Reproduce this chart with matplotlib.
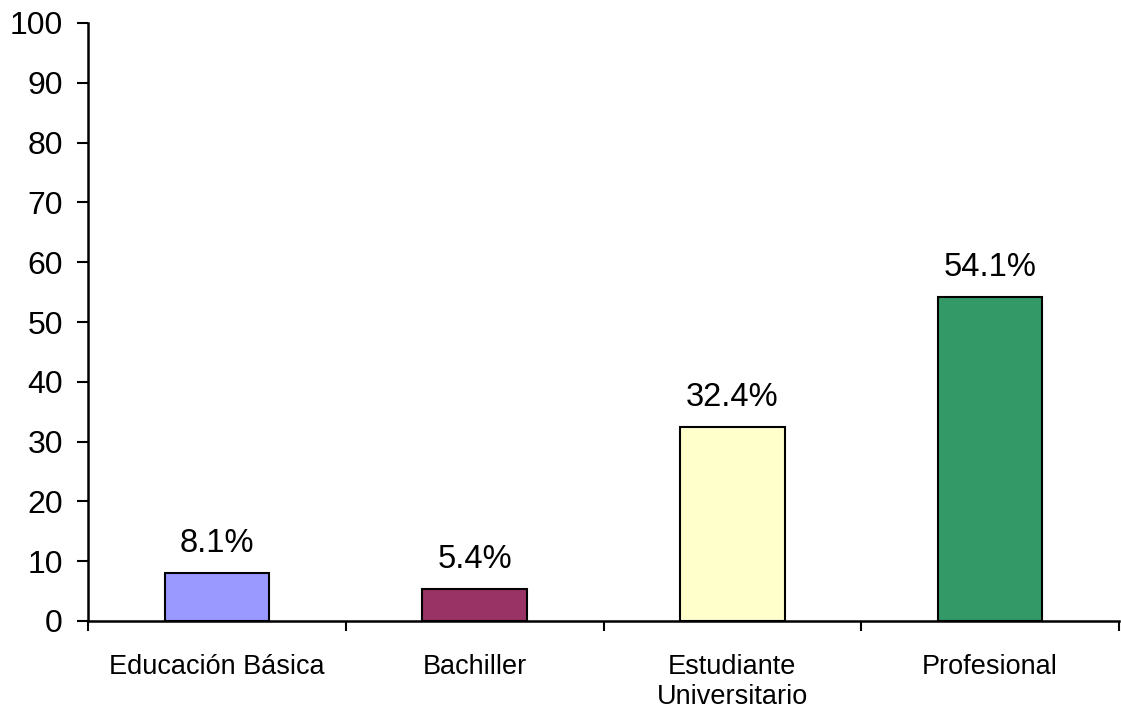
import matplotlib
matplotlib.use("Agg")
import matplotlib.pyplot as plt
import numpy as np

categories = ["Educación Básica", "Bachiller", "Estudiante\nUniversitario", "Profesional"]
values = [8.1, 5.4, 32.4, 54.1]
colors = ["#9999FF", "#993366", "#FFFFCC", "#339966"]
y_ticks = [0, 10, 20, 30, 40, 50, 60, 70, 80, 90, 100]

plt.rcParams['font.family'] = ['Liberation Sans', 'DejaVu Sans']

fig = plt.figure(figsize=(11.21, 7.12), dpi=100)
ax = fig.add_axes([88 / 1121, 91 / 712, 1031 / 1121, 598 / 712])

x = np.arange(len(categories))
bars = ax.bar(x, values, width=0.405, color=colors, edgecolor="black", linewidth=1.5, zorder=3)

for b, v in zip(bars, values):
    ax.annotate("{:.1f}%".format(v), (b.get_x() + b.get_width() / 2, v),
                xytext=(0, 14), textcoords="offset pixels",
                ha="center", va="bottom", fontsize=23.5)

ax.set_xlim(-0.5, len(categories) - 0.5)
ax.set_ylim(0, 100)
ax.set_yticks(y_ticks)
ax.tick_params(axis="y", labelsize=23, length=8, width=1.5, pad=10, direction="out")

# category labels between the boundary ticks
ax.set_xticks(np.arange(len(categories) + 1) - 0.5)
ax.set_xticklabels([])
ax.set_xticks(x, minor=True)
ax.set_xticklabels(categories, minor=True, fontsize=19.5)
ax.tick_params(axis="x", which="major", length=7, width=1.5, direction="out")
ax.tick_params(axis="x", which="minor", length=0, pad=24)

for s in ["top", "right"]:
    ax.spines[s].set_visible(False)
for s in ["left", "bottom"]:
    ax.spines[s].set_linewidth(1.8)

fig.savefig("out.png", dpi=100)
